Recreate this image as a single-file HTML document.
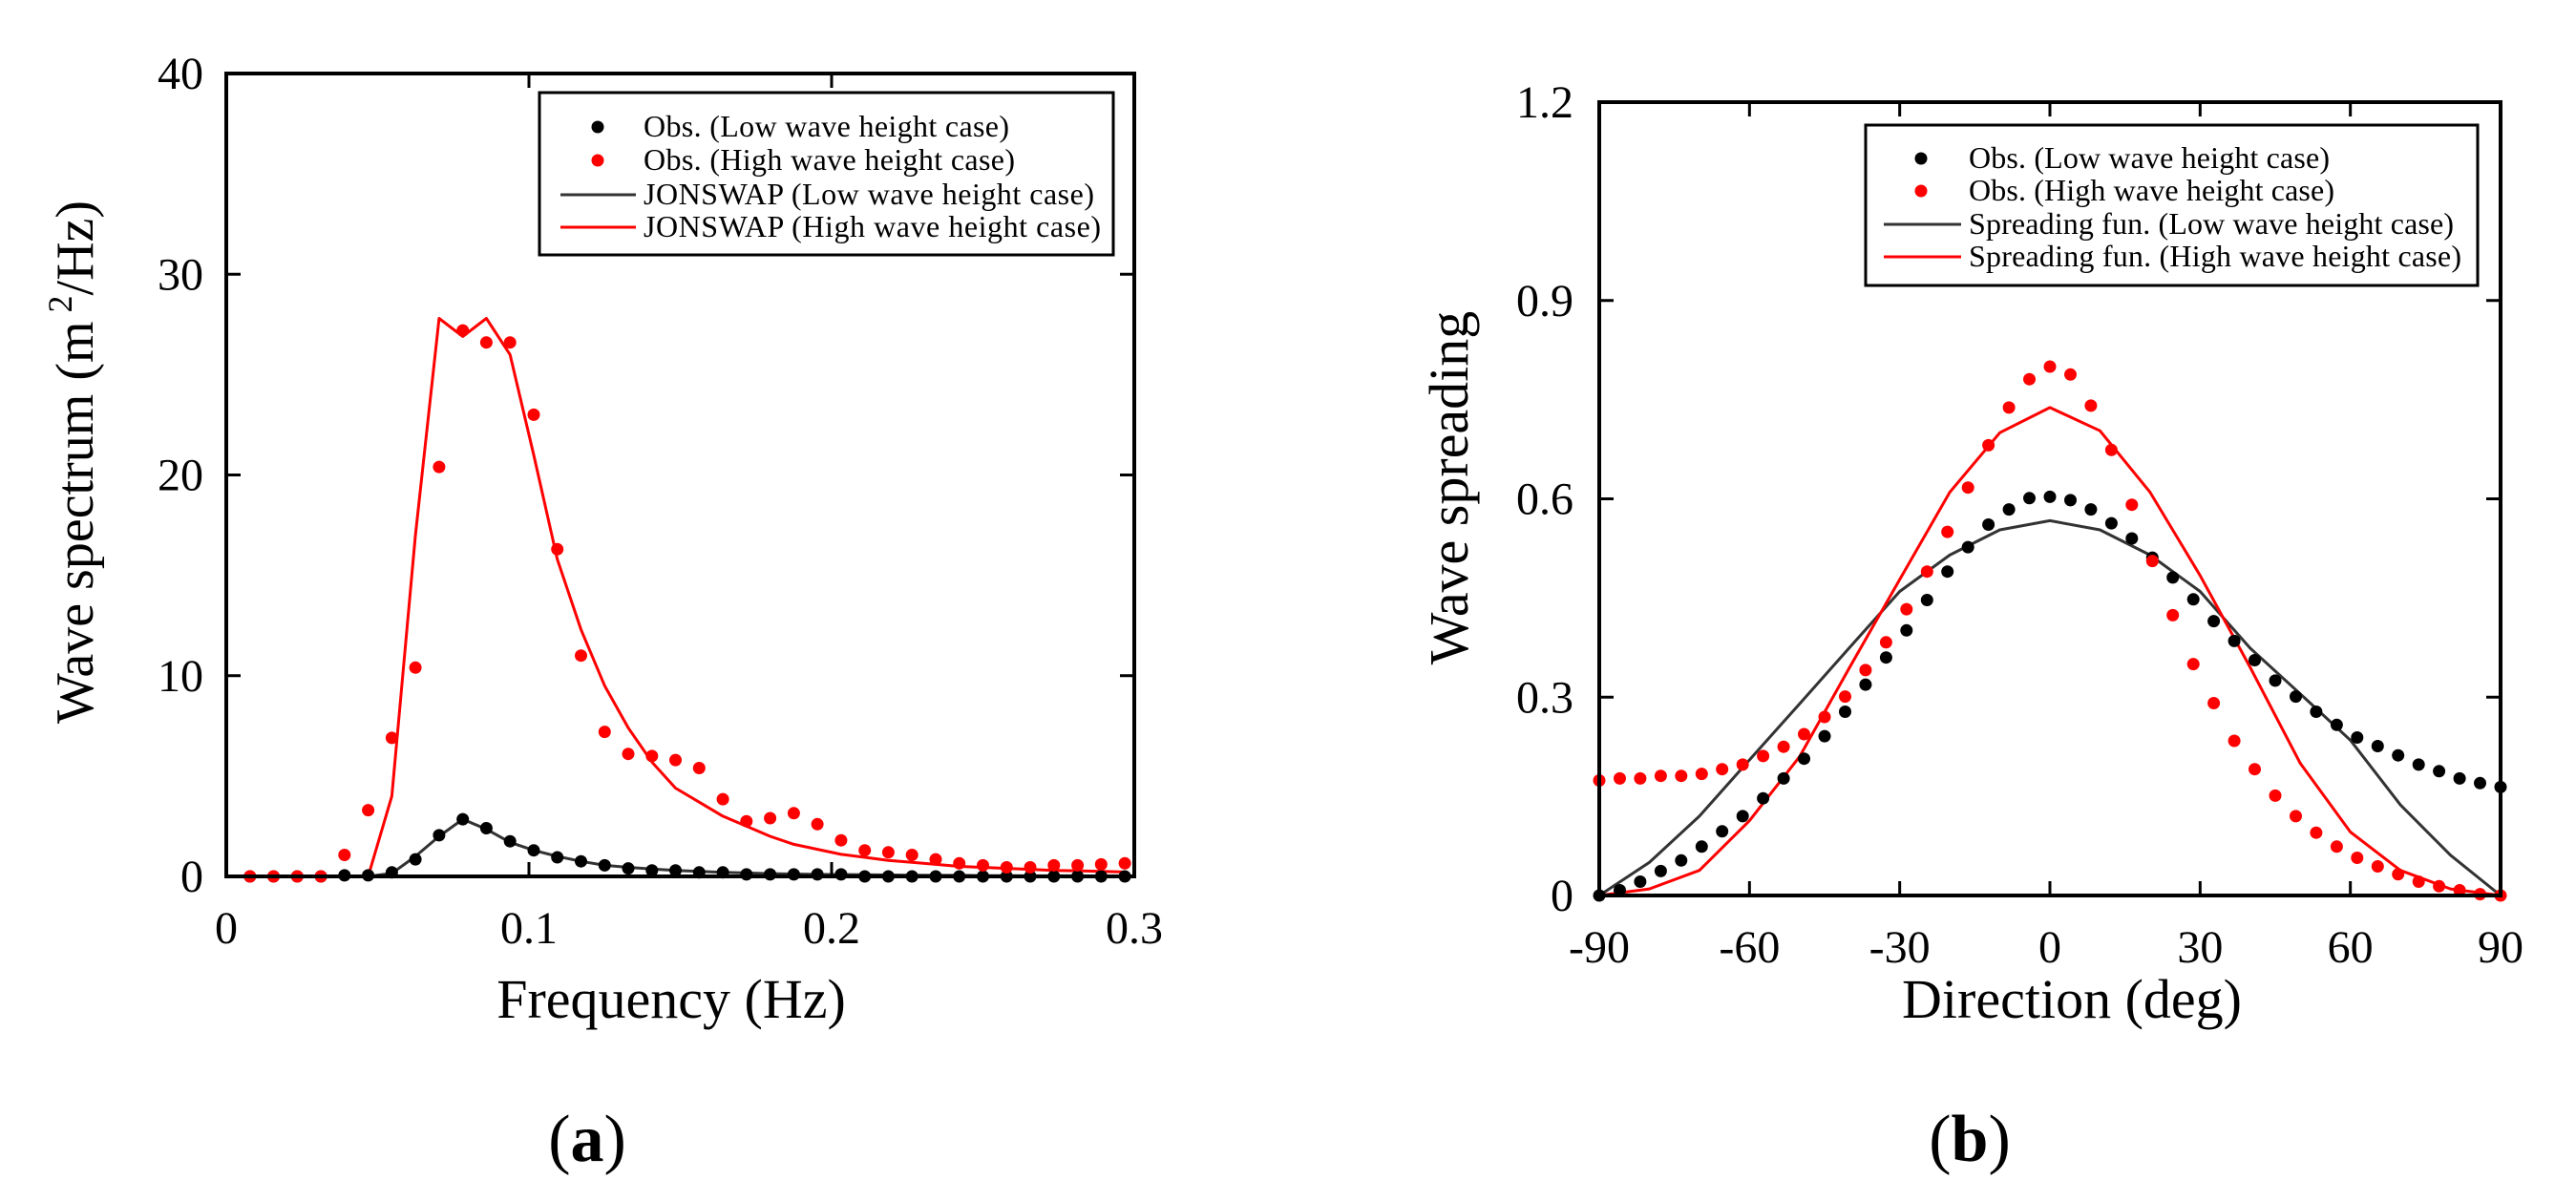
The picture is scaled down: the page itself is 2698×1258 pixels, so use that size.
<!DOCTYPE html>
<html><head><meta charset="utf-8"><style>
html,body{margin:0;padding:0;background:#fff;}
svg{display:block;font-family:"Liberation Serif",serif;}
</style></head><body>
<svg id="c" xmlns="http://www.w3.org/2000/svg" width="2698" height="1258" viewBox="0 0 2698 1258">
<rect width="2698" height="1258" fill="#fff"/>
<g id="pa"></g>
<g id="pb"></g>
<text x="703" y="1066" font-size="58" text-anchor="middle">Frequency (Hz)</text>
<text transform="translate(97,484) rotate(-90)" font-size="56" text-anchor="middle">Wave spectrum (m<tspan dy="-22" font-size="36"> 2</tspan><tspan dy="22">/Hz)</tspan></text>
<text x="615" y="1216" font-size="70" text-anchor="middle">(<tspan font-weight="bold">a</tspan>)</text>
<text x="2170" y="1066" font-size="58" text-anchor="middle">Direction (deg)</text>
<text transform="translate(1537,511) rotate(-90)" font-size="58" text-anchor="middle">Wave spreading</text>
<text x="2063" y="1216" font-size="70" text-anchor="middle">(<tspan font-weight="bold">b</tspan>)</text>
</svg>
<script>
// ---- Panel (a) data ----
const freqA = Array.from({length:38},(_,i)=>(i+1)/128);
const obsLowA = [0,0,0,0,0.05,0.05,0.2,0.85,2.05,2.85,2.4,1.75,1.3,0.95,0.75,0.55,0.4,0.3,0.3,0.2,0.2,0.1,0.1,0.1,0.1,0.1,0,0,0,0,0,0,0,0,0,0,0,0];
const obsHighA = [0,0,0,0,1.07,3.3,6.9,10.4,20.4,27.2,26.6,26.6,23.0,16.3,11.0,7.2,6.1,6.0,5.8,5.4,3.85,2.75,2.9,3.15,2.6,1.8,1.3,1.2,1.07,0.85,0.65,0.55,0.45,0.45,0.55,0.55,0.6,0.65];
const jonLowA = [0,0,0,0,0,0,0.15,1.0,2.0,2.85,2.35,1.7,1.3,1.0,0.75,0.55,0.45,0.37,0.3,0.25,0.2,0.17,0.14,0.12,0.1,0.09,0.08,0.07,0.06,0.05,0.05,0.04,0.04,0.03,0.03,0.03,0.02,0.02];
const jonHighA = [0,0,0,0,0,0,4.0,17.0,27.8,26.9,27.8,26.0,21.0,15.8,12.3,9.5,7.4,5.7,4.4,3.7,3.0,2.5,2.0,1.6,1.35,1.1,0.95,0.8,0.7,0.6,0.5,0.45,0.4,0.35,0.3,0.28,0.25,0.22];
const xTicksA = [0,0.1,0.2,0.3];
const xTickLabelsA = ["0","0.1","0.2","0.3"];
const yTicksA = [0,10,20,30,40];
const yTickLabelsA = ["0","10","20","30","40"];
// ---- Panel (b) data ----
const dirB = Array.from({length:45},(_,i)=>-90+i*180/44);
const obsLowB = [0,0.008,0.021,0.037,0.053,0.074,0.097,0.12,0.147,0.177,0.207,0.241,0.278,0.319,0.36,0.401,0.447,0.49,0.527,0.561,0.584,0.601,0.603,0.598,0.584,0.563,0.54,0.511,0.481,0.448,0.415,0.385,0.356,0.325,0.301,0.278,0.258,0.239,0.226,0.212,0.198,0.188,0.177,0.17,0.164];
const obsHighB = [0.174,0.177,0.177,0.181,0.181,0.184,0.191,0.198,0.211,0.225,0.244,0.27,0.301,0.341,0.383,0.433,0.49,0.55,0.617,0.681,0.738,0.781,0.80,0.788,0.741,0.674,0.591,0.506,0.424,0.35,0.291,0.234,0.191,0.151,0.12,0.095,0.074,0.057,0.044,0.032,0.021,0.014,0.008,0.002,0];
const dirLine = [-90,-80,-70,-60,-50,-40,-30,-20,-10,0,10,20,30,40,50,60,70,80,90];
const funLowB = [0,0.05,0.12,0.205,0.29,0.375,0.46,0.515,0.553,0.567,0.553,0.515,0.46,0.374,0.305,0.235,0.137,0.061,0];
const funHighB = [0,0.01,0.038,0.113,0.21,0.345,0.478,0.61,0.70,0.738,0.703,0.61,0.484,0.345,0.2,0.096,0.038,0.01,0];
const xTicksB = [-90,-60,-30,0,30,60,90];
const xTickLabelsB = ["-90","-60","-30","0","30","60","90"];
const yTicksB = [0,0.3,0.6,0.9,1.2];
const yTickLabelsB = ["0","0.3","0.6","0.9","1.2"];

const NS="http://www.w3.org/2000/svg";
function mk(parent,tag,attrs,text){const e=document.createElementNS(NS,tag);for(const k in attrs)e.setAttribute(k,attrs[k]);if(text!==undefined)e.textContent=text;parent.appendChild(e);return e;}

function panel(g,cfg){
  const {x0,x1,y0,y1,xmin,xmax,ymin,ymax}=cfg;
  const sx=v=>x0+(v-xmin)/(xmax-xmin)*(x1-x0);
  const sy=v=>y1-(v-ymin)/(ymax-ymin)*(y1-y0);
  cfg.lines.forEach(L=>{
    const pts=L.x.map((v,i)=>sx(v).toFixed(1)+","+sy(L.y[i]).toFixed(1)).join(" ");
    const p=mk(g,"polyline",{points:pts,fill:"none",stroke:L.color,"stroke-width":3,"stroke-linejoin":"round"});
    
    
  });
  cfg.dots.forEach(D=>{
    const grp=mk(g,"g",{});
    
    
    D.x.forEach((v,i)=>{
      const c=mk(grp,"circle",{cx:sx(v).toFixed(1),cy:sy(D.y[i]).toFixed(1),r:6.5,fill:D.color});
      
      
    });
  });
  const fr=mk(g,"rect",{x:x0,y:y0,width:x1-x0,height:y1-y0,fill:"none",stroke:"#000","stroke-width":4});
  
  
  const tl=15;
  cfg.xt.forEach((v,i)=>{
    const X=sx(v);
    mk(g,"line",{x1:X,y1:y1,x2:X,y2:y1-tl,stroke:"#000","stroke-width":3});
    mk(g,"line",{x1:X,y1:y0,x2:X,y2:y0+tl,stroke:"#000","stroke-width":3});
    const t=mk(g,"text",{x:X,y:y1+70,"font-size":48,"text-anchor":"middle"},cfg.xl[i]);
    
    
  });
  cfg.yt.forEach((v,i)=>{
    const Y=sy(v);
    mk(g,"line",{x1:x0,y1:Y,x2:x0+tl,y2:Y,stroke:"#000","stroke-width":3});
    mk(g,"line",{x1:x1,y1:Y,x2:x1-tl,y2:Y,stroke:"#000","stroke-width":3});
    const t=mk(g,"text",{x:cfg.ylx,y:Y+cfg.ylOff,"font-size":48,"text-anchor":"end"},cfg.yl[i]);
    
    
  });
  const Lg=cfg.legend;
  const lg=mk(g,"g",{});
  
  
  mk(lg,"rect",{x:Lg.x,y:Lg.y,width:Lg.w,height:Lg.h,fill:"#fff",stroke:"#000","stroke-width":3});
  Lg.items.forEach((it,i)=>{
    const ry=Lg.rows[i];
    const e=mk(lg,"g",{});
    
    
    if(it.type==="dot") mk(e,"circle",{cx:Lg.mx,cy:ry,r:6.5,fill:it.color});
    else mk(e,"line",{x1:Lg.lx1,y1:ry,x2:Lg.lx2,y2:ry,stroke:it.color,"stroke-width":3});
    mk(e,"text",{x:Lg.tx,y:ry+10,"font-size":32,textLength:it.len,lengthAdjust:"spacing"},it.label);
  });
}

panel(document.getElementById("pa"),{
  x0:237,x1:1188,y0:77,y1:918,xmin:0,xmax:0.3,ymin:0,ymax:40,
  xt:xTicksA,xl:xTickLabelsA,yt:yTicksA,yl:yTickLabelsA,ylx:213,ylOff:16,
  lines:[{x:freqA,y:jonLowA,color:"#333",name:"jonswap-low-line"},{x:freqA,y:jonHighA,color:"#f00",name:"jonswap-high-line"}],
  dots:[{x:freqA,y:obsLowA,color:"#000",name:"obs-low-series"},{x:freqA,y:obsHighA,color:"#f00",name:"obs-high-series"}],
  legend:{x:565,y:97,w:601,h:170,rows:[133,168,204,238],mx:626,lx1:587,lx2:666,tx:674,
    items:[{type:"dot",color:"#000",label:"Obs. (Low wave height case)",len:383},{type:"dot",color:"#f00",label:"Obs. (High wave height case)",len:389},
           {type:"line",color:"#333",label:"JONSWAP (Low wave height case)",len:472},{type:"line",color:"#f00",label:"JONSWAP (High wave height case)",len:479}]}
});
panel(document.getElementById("pb"),{
  x0:1675,x1:2619,y0:107,y1:938,xmin:-90,xmax:90,ymin:0,ymax:1.2,
  xt:xTicksB,xl:xTickLabelsB,yt:yTicksB,yl:yTickLabelsB,ylx:1648,ylOff:16,
  lines:[{x:dirLine,y:funLowB,color:"#333",name:"spreading-low-line"},{x:dirLine,y:funHighB,color:"#f00",name:"spreading-high-line"}],
  dots:[{x:dirB,y:obsLowB,color:"#000",name:"obs-low-series"},{x:dirB,y:obsHighB,color:"#f00",name:"obs-high-series"}],
  legend:{x:1954,y:131,w:641,h:168,rows:[166,200,235,269],mx:2012,lx1:1973,lx2:2054,tx:2062,
    items:[{type:"dot",color:"#000",label:"Obs. (Low wave height case)",len:378},{type:"dot",color:"#f00",label:"Obs. (High wave height case)",len:383},
           {type:"line",color:"#333",label:"Spreading fun. (Low wave height case)",len:508},{type:"line",color:"#f00",label:"Spreading fun. (High wave height case)",len:516}]}
});
</script>
</body></html>
